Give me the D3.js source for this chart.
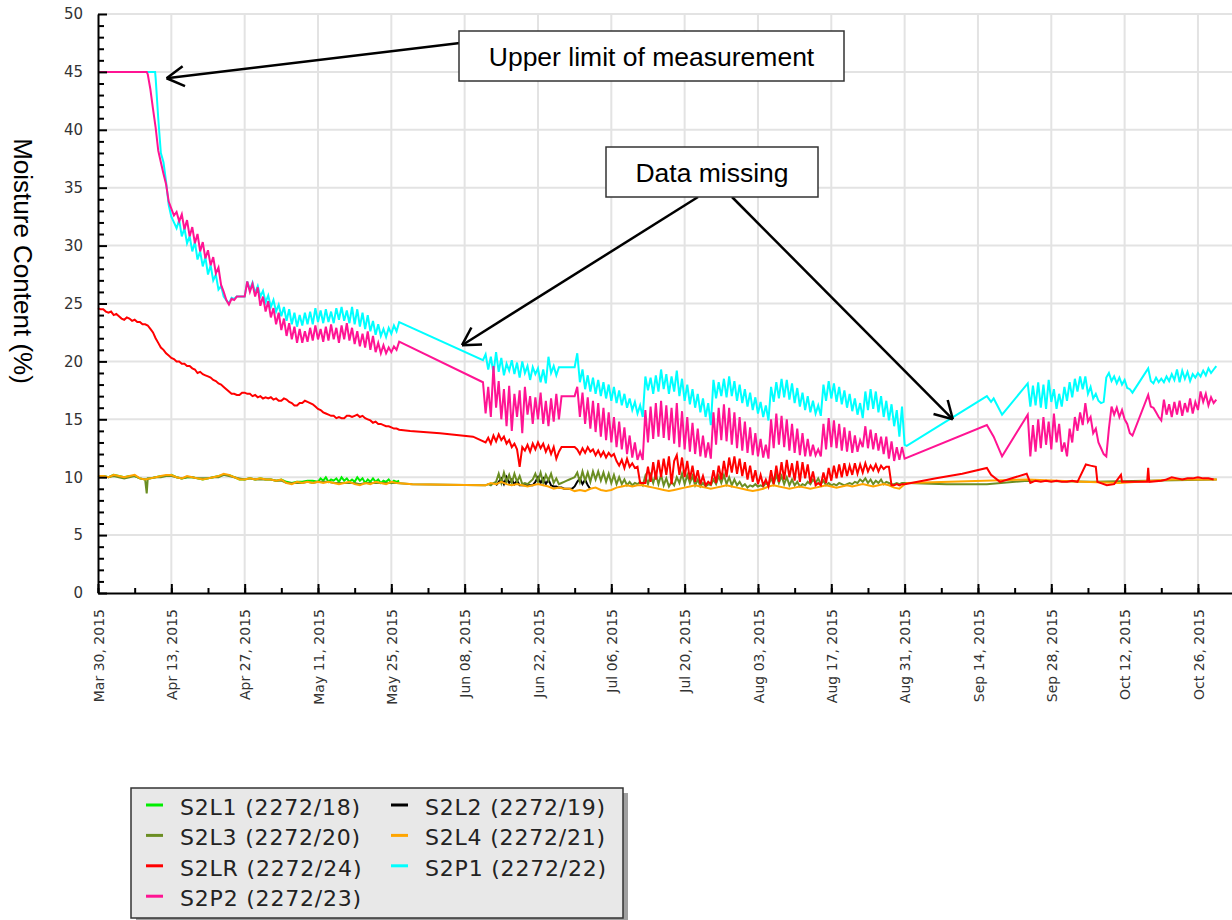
<!DOCTYPE html>
<meta charset="utf-8">
<style>
body { margin: 0; background: #fff; }
svg { display: block; background: #fff; }
.grid line { stroke: #e3e3e3; stroke-width: 2px; }
.series { fill: none; stroke-width: 2px; }
.axis path, .axis line { stroke: #000; stroke-width: 2px; }
.axis text { font-family: "DejaVu Sans", Verdana, sans-serif; fill: #333; }
.note rect { fill: #fff; stroke: #333; stroke-width: 1.5px; }
.note text { font-family: "Liberation Sans", Arial, sans-serif; font-size: 26.5px; fill: #000; }
.arrow line { stroke: #000; stroke-width: 2.5px; }
.legend text { font-family: "DejaVu Sans", Verdana, sans-serif; font-size: 22px; letter-spacing: 0.8px; fill: #222; }
</style>
<svg width="1232" height="920"></svg>
<script src="https://cdn.jsdelivr.net/npm/d3@7/dist/d3.min.js"></script>
<script>
// each series is a list of runs: [start day (from Mar 30 2015), step in days, values]
var s2l1 = [
  [0, 1, [10.1,10.1,10.0,10.2,10.1,10.0,10.1,10.1,9.9,9.8, 9.9,10.0,10.1,10.1,10.2,10.0,9.9,10.0,10.0,9.9,
          9.8,9.9,10.0,10.1,10.2,10.2,10.0,9.8,9.8,9.9, 9.8,9.9,9.8,9.8,9.7,9.8,9.6,9.5,9.6,9.6, 9.7,9.7]],
  [42, 0.5, [9.6,9.9,9.7,10.0,9.6,9.8,9.7,9.9,9.6,10.0, 9.7,9.9,9.6,9.8,9.6,10.0,9.7,9.9,9.5,9.8,
             9.6,9.9,9.6,9.8,9.5,9.7,9.6,9.8,9.5,9.7, 9.6,9.7]]
];
var s2l2 = [
  [76, 0.5, [9.3,9.6,9.9,9.4,10.0,9.5,9.8,9.4,9.7,9.3, 9.3,9.3,9.3,9.3,9.3,9.6,10.0,9.5,9.9,9.4,
             9.8,9.3,9.2,9.2,9.1,9.1,9.0,9.0,9.0,9.0, 9.2,9.6,9.9,9.4,9.8,9.3,9.0]]
];
var s2l3 = [
  [0, 1, [10.0,10.1,10.0,10.1,10.0,9.9,10.0,10.1,9.9,9.8]],
  [9.3, 0, [8.6]], [9.5, 0, [9.9]],
  [10, 1, [9.9,10.0,10.0,10.1,10.1,10.0,9.9,10.0,10.0,9.9, 9.9,9.9,10.0,10.0,10.2,10.1,10.0,9.9,9.8,9.9,
           9.8,9.8,9.8,9.8,9.7,9.7,9.5,9.5,9.5,9.5, 9.6,9.5,9.6,9.6,9.6,9.5,9.5,9.5,9.5,9.5,
           9.4,9.5,9.5,9.5,9.5,9.5,9.5,9.5]],
  [60, 0, [9.4]], [73.5, 0, [9.3]],
  [74, 0.5, [9.3,9.4,9.3,9.5,9.6,10.3,9.5,10.4,9.6,10.2, 9.5,10.3,9.6,10.1,9.4,9.5,9.4,9.6,9.8,10.3,
             9.6,10.4,9.5,10.2,9.7,10.3,9.5,9.9,9.4,9.5, 9.6,9.7,9.8,9.9,10.0,10.4,9.6,10.5,9.7,10.4,
             9.6,10.5,9.8,10.5,9.7,10.4,9.6,10.3,9.5,10.2, 9.4,10.0,9.4,9.8,9.3,9.6,9.3,9.5,9.4,9.6,
             9.3,10.1,9.4,10.2,9.5,10.3,9.4,10.2,9.3,9.9, 9.2,9.6,9.3,10.0,9.5,10.3,9.4,10.2,9.5,10.1,
             9.3,9.8,9.2,9.5,9.2,9.4,9.3,9.8,9.4,10.1, 9.5,10.2,9.4,10.0,9.3,9.8,9.3,9.6,9.2,9.4,
             9.1,9.3,9.2,9.4,9.2,9.3,9.2,9.5,9.3,9.9, 9.4,10.2,9.5,10.1,9.4,10.0,9.3,9.8,9.3,9.6,
             9.2,9.4,9.3,9.6,9.4,9.8,9.5,9.9,9.4,9.7, 9.3,9.5,9.3,9.4,9.3,9.5,9.4,9.3,9.4,9.5,
             9.4,9.6,9.5,9.8,9.6,9.9,9.5,9.8,9.4,9.7, 9.5,9.8,9.4,9.6,9.5,9.4,9.4,9.5,9.4,9.5, 9.5]],
  [154.5, 0, [9.5]], [162, 0, [9.4]], [169.7, 0, [9.4]], [177.5, 0, [9.7]],
  [190, 0, [9.6]], [200, 0, [9.7]], [213.6, 0, [9.8]]
];
var s2l4 = [
  [0, 1, [10.1,10.1,10.0,10.2,10.1,10.0,10.1,10.2,9.9,9.8, 9.9,10.0,10.1,10.2,10.2,10.0,9.9,10.1,10.0,9.9,
          9.8,9.9,10.0,10.1,10.3,10.2,10.0,9.8,9.8,9.9, 9.8,9.9,9.8,9.8,9.7,9.8,9.5,9.4,9.6,9.5,
          9.6,9.5,9.6,9.5,9.6,9.5,9.4,9.5,9.6,9.4, 9.3,9.5,9.4,9.6,9.5,9.4,9.6,9.5]],
  [60, 0, [9.4]], [73.5, 0, [9.3]],
  [74, 1, [9.3,9.5,9.4,9.6,9.4,9.3,9.4,9.3,9.2,9.3, 9.4,9.3,9.2,9.0,9.1,9.0,9.0,8.8,8.9,8.8,
           9.0,9.1,8.9,8.8,8.9,9.1,9.2,9.3,9.2,9.3, 9.3,9.2,9.1,9.0,8.9,8.8,8.9,9.0,9.1,9.2,
           9.3,9.2,9.1,9.0,9.1,9.2,9.3,9.2,9.1,9.0, 8.9,8.8,8.9,9.0,9.2,9.3,9.2,9.1,9.0,9.1,
           9.2,9.1,9.0,9.1,9.2,9.3,9.2,9.1,9.2,9.3, 9.2,9.3,9.4,9.3,9.2,9.3,9.4,9.3,9.1,9.0, 9.4]],
  [154.5, 0, [9.5]], [177.5, 0, [9.8]], [188, 0, [9.6]], [195, 0, [9.5]],
  [205, 0, [9.8]], [213.6, 0, [9.8]]
];
var s2lr = [
  [0, 0.5, [24.6,24.5,24.5,24.3,24.2,24.3,24.0,24.1,23.9,23.7, 23.6,23.8,23.7,23.5,23.6,23.4,23.4,23.2,23.2,23.1,
            22.8,22.5,22.0,21.6,21.2,21.0,20.7,20.5,20.3,20.2, 20.0,20.0,19.8,19.8,19.6,19.6,19.4,19.3,19.0,19.1,
            18.9,18.8,18.7,18.6,18.4,18.3,18.1,18.0,17.8,17.6, 17.4,17.2,17.2,17.1,17.1,17.3,17.3,17.2,17.2,17.0,
            17.1,16.9,17.0,16.8,16.9,16.8,16.9,16.7,16.8,16.6, 16.6,16.8,16.7,16.5,16.4,16.2,16.2,16.4,16.4,16.6,
            16.5,16.4,16.3,16.1,15.9,15.8,15.6,15.5,15.4,15.3, 15.3,15.1,15.2,15.1,15.1,15.3,15.3,15.2,15.3,15.4,
            15.2,15.3,15.1,15.0,14.9,14.7,14.8,14.6,14.6,14.5, 14.4,14.4,14.3,14.2,14.2,14.1]],
  [59.6, 0, [14.0]], [65.3, 0, [13.8]], [71.6, 0, [13.5]],
  [74, 0.5, [13.0,13.4,12.9,13.6,13.1,13.7,13.2,13.5,12.9,13.2, 12.6,12.9,12.4,10.9,12.6,12.3,12.8,12.2,12.9,12.4,
             13.0,12.5,12.9,12.2,12.7,12.0,12.6,11.6,12.2,12.6, 12.6,12.6,12.6,12.6,12.6]],
  [91.5, 0.5, [12.4,12.0,12.5,12.1,12.6,12.2,12.4,11.9,12.3,11.8, 12.2,11.7,12.1,11.8,12.0,11.4,11.0,11.5,10.8,11.6,
               10.9,11.2,10.8,10.9,9.5,9.5,9.5,10.9,9.6,11.3, 9.8,11.5,10.0,11.6,10.2,11.8,9.4,11.4,11.9,10.2,
               11.7,10.0,11.4,9.8,11.0,9.6,10.6,9.4,10.1,9.3, 9.6,9.4,10.6,9.5,11.0,9.8,11.4,10.0,11.7,10.4,
               11.8,10.3,11.6,10.1,11.3,9.8,11.0,9.6,10.6,9.4, 10.2,9.3,9.8,9.2,10.6,9.4,11.0,9.6,11.3,9.8,
               11.5,10.0,11.2,9.7,11.4,9.6,11.3,9.9,11.1,9.5, 10.5,9.3,9.5,9.3,10.4,9.5,10.8,9.7,11.0,9.9,
               11.1,10.0,11.2,10.1,11.0,10.2,11.2,10.3,11.1,10.4, 11.2,10.5,11.0,10.6,11.1,10.5,11.0,10.7,10.9,10.9,
               9.3,9.3,9.4,9.3,9.4,9.4]],
  [160, 0, [9.9]], [165, 0, [10.3]], [169.7, 0, [10.8]], [170.5, 0, [10.2]], [172.2, 0, [9.6]],
  [177.3, 0, [10.3]], [178, 0, [9.5]],
  [179, 1, [9.7,9.6,9.7,9.6,9.7,9.6,9.6,9.7,9.6]],
  [188.6, 0, [11.1]], [189.5, 0, [11.0]], [190.5, 0, [10.9]], [190.8, 0, [9.6]], [192.6, 0, [9.3]],
  [194, 0, [9.4]], [195.3, 0, [10.2]], [195.5, 0, [9.6]], [198, 0, [9.6]], [200.3, 0, [9.6]],
  [200.5, 0, [10.8]], [200.7, 0, [9.6]],
  [203, 1, [9.7,9.8,10.0,9.9,9.8,9.9,9.9,10.0,9.9,9.9,9.8]]
];
var s2p1 = [
  [0, 10.9, [45, 45]],
  [11, 0.5, [44.5,41,38,37.2,35.5,33.5,32.5,32,31.5,32.2, 30.8,31.5,30.2,30.8,29.5,30.3,28.8,29.5,28.2,29,
             27.5,28.3,27,27.5,26.2,26.5,25.6,25.3,25.0,25.5, 25.4,25.6,25.6,25.6,25.6,26.9,26.2,26.8,25.9,26.5,
             25.6,26.1,25.1,25.7,24.7,25.3,24.3,24.9,23.9,24.7, 23.5,24.5,23.2,24.2,23,24,23.1,24.2,23.2,24.3,
             23.2,24.6,23.4,24.4,23.3,24.5,23.4,24.3,23.3,24.6, 23.6,24.7,23.5,24.4,23.3,24.7,23.2,24.5,23.0,24.2,
             22.8,24,22.6,23.5,22.3,23.2,22.2,22.8,22.1,22.9, 22.4,23.1,22.6,23.4]],
  [73.5, 0.5, [20.1,20.6,19.3,20.4,19.0,20.8,19.1,20.3,18.8,19.8, 19.2,20.1,18.9,19.9,18.6,20.0,19.0,19.6,18.4,19.5,
               18.9,19.4,18.2,19.3,18.1,20.4,19.0,19.6,18.8,19.5, 19.5,19.5,19.5,19.5,19.5,19.5]],
  [91.5, 0.5, [20.7,18.2,19.3,17.6,18.8,17.4,18.6,17.2,18.4,17.0, 18.2,16.8,18.0,16.6,17.8,16.4,17.5,16.2,17.2,16.0,
               16.8,15.8,16.5,15.5,16.2,15.2,18.7,17.5,18.6,17.2, 18.8,17.4,19.3,17.6,18.9,17.2,18.7,17.4,19.2,17.0,
               18.5,16.6,18.0,16.3,17.6,16.0,17.2,15.6,16.8,15.2, 16.4,14.5,18.4,16.8,18.2,17.0,18.5,16.9,18.7,17.0,
               18.3,16.6,18.0,16.4,17.6,16.1,17.3,15.8,16.9,15.5, 16.5,15.2,16.2,14.9,17.8,16.5,18.2,16.8,18.5,16.9,
               18.4,16.7,18.1,16.4,17.7,16.1,17.3,15.8,17.0,15.6, 16.6,15.5,16.2,15.3,18.0,16.6,18.3,16.8,18.1,16.5,
               17.8,16.3,17.5,16.0,17.2,15.7,16.8,15.4,16.4,15.1, 17.4,15.8,17.6,15.9,17.4,15.6,17.0,15.2,16.6,14.9,
               16.3,14.4,15.8,13.5,16.1,12.8]],
  [154.4, 0, [12.7]], [169.7, 0, [17.0]], [170.5, 0, [16.5]], [171, 0, [16.8]], [172.6, 0, [15.4]],
  [177.5, 0, [18.1]],
  [178, 0.5, [16.1,17.9,16.2,18.2,16.0,18.0,15.9,18.4,16.5,17.6, 15.9,17.2,16.1,17.8,16.6,18.2,16.9,18.5,17.4,18.7,
              17.6,18.7,17.2,17.8,16.8,17.2,16.6,16.4,16.5,18.6, 19.0,18.3,18.7,18.1,18.6,18.0,18.4,17.7,17.6,17.3]],
  [200.5, 0, [19.4]],
  [201, 0.5, [18.3,18.1,18.6,18.2,18.5,18.2,18.7,18.3,18.9,18.4, 19.3,18.2,19.2,18.5,19.1,18.3,18.9,18.6,19.0,18.7,
              19.2,18.8,19.4,19.0,19.3,19.6]]
];
var s2p2 = [
  [0, 9.3, [45, 45]],
  [9.5, 0.5, [44.8,43.5,41.8,40.2,38.2,37.2,36.2,35.3,33.8,33.2, 32.6,32.9,32.1,32.7,31.4,32.2,30.8,31.6,30.2,31.0,
              29.5,30.3,28.9,29.6,28.3,29.0,27.6,28.1,26.6,26.0, 25.3,24.9,25.4,25.3,25.6,25.6,25.6,25.6,26.9,26.0,
              26.7,25.6,26.4,24.8,25.6,24.3,25.2,23.8,24.6,23.2, 24.2,22.7,23.7,22.2,23.3,21.9,23.0,21.6,22.8,21.6,
              22.6,21.7,22.9,21.8,23.1,21.9,22.8,21.7,23.0,21.8, 23.2,21.9,22.9,21.6,23.1,21.9,23.3,21.8,22.9,21.5,
              22.6,21.3,22.4,21.2,22.6,21.0,22.2,20.8,21.6,20.7, 21.4,20.7,21.2,20.8,21.3,21.0,21.7]],
  [73.5, 0.5, [18.2,15.5,17.8,15.2,19.6,16.0,18.3,15.0,17.6,14.4, 17.9,14.0,17.2,15.2,17.5,13.8,17.8,15.4,17.0,14.6,
               16.9,15.0,17.3,14.6,16.6,14.4,16.8,14.8,17.2,15.0, 17.0,17.0,17.0,17.0,17.0,17.0]],
  [91.5, 0.5, [17.8,15.2,17.3,14.6,16.9,14.2,16.6,13.9,16.4,13.5, 16.0,13.2,15.6,13.0,15.2,12.6,14.8,12.4,14.3,12.0,
               13.6,11.7,13.0,11.5,12.2,11.5,15.8,13.0,16.1,13.3, 16.4,13.5,16.6,13.4,16.2,13.2,16.0,12.9,16.4,12.6,
               15.7,12.4,15.2,12.2,14.7,12.0,14.2,11.8,13.6,11.7, 13.0,11.6,15.6,12.8,16.0,13.2,16.3,13.1,16.0,12.8,
               15.6,12.5,15.2,12.3,14.8,12.1,14.3,11.9,13.8,11.8, 13.3,11.7,12.8,11.6,15.0,12.5,15.5,12.8,15.3,12.6,
               15.0,12.3,14.6,12.1,14.2,11.9,13.8,11.8,13.3,11.8, 12.8,11.9,12.4,11.8,14.6,12.4,15.1,12.6,14.9,12.5,
               14.6,12.3,14.3,12.2,14.0,12.1,13.6,12.2,13.2,12.6, 14.4,12.5,14.1,12.4,13.8,12.3,13.5,12.0,13.5,11.6,
               13.1,11.4,12.6,11.5,12.6,11.6]],
  [169.7, 0, [14.5]], [171, 0, [13.5]], [172.6, 0, [11.8]], [177.5, 0, [15.4]],
  [178, 0.5, [11.8,14.5,12.2,15.0,12.5,15.2,12.8,14.8,12.4,15.5, 13.0,14.6,12.2,13.0,11.8,14.2,13.0,15.2,14.0,15.6,
              14.5,16.4,14.8,15.2,13.8,14.2,13.0,12.5,12.0,11.8, 14.2,16.1,15.4,16.0,15.2,15.8,15.0,14.6,13.8,13.6]],
  [200.5, 0, [17.1]],
  [201, 0.5, [16.1,16.0,15.6,15.2,14.9,16.7,15.4,16.3,15.2,16.5, 15.4,16.6,15.3,16.4,15.6,16.8,15.5,16.5,15.8,17.4,
              16.5,17.2,16.2,16.9,16.4,16.7]]
];

var seriesNames = ["S2L1 (2272/18)", "S2L2 (2272/19)", "S2L3 (2272/20)", "S2L4 (2272/21)",
                   "S2LR (2272/24)", "S2P1 (2272/22)", "S2P2 (2272/23)"];
var seriesData = [s2l1, s2l2, s2l3, s2l4, s2lr, s2p1, s2p2];
var seriesColors = ["#00ee00", "#000000", "#6b8e23", "#ffa500", "#ff0000", "#00ffff", "#ff1493"];

var xTickLabels = ["Mar 30, 2015", "Apr 13, 2015", "Apr 27, 2015", "May 11, 2015", "May 25, 2015",
  "Jun 08, 2015", "Jun 22, 2015", "Jul 06, 2015", "Jul 20, 2015", "Aug 03, 2015", "Aug 17, 2015",
  "Aug 31, 2015", "Sep 14, 2015", "Sep 28, 2015", "Oct 12, 2015", "Oct 26, 2015"];
var yTicks = [0, 5, 10, 15, 20, 25, 30, 35, 40, 45, 50];

var notes = [
  {text: "Upper limit of measurement", tips: [[13.1, 44.45]]},
  {text: "Data missing", tips: [[69.5, 21.4], [163.2, 15.0]]}
];

var svg = d3.select("svg");
var plot = {left: 98, right: 1232, top: 14, bottom: 593};
var parse = d3.timeParse("%b %d, %Y");
var start = parse(xTickLabels[0]);
function dayToDate(d) { return new Date(start.getTime() + d * 864e5); }

var x = d3.scaleTime().domain([start, dayToDate(216.5)]).range([plot.left, plot.right]),
    y = d3.scaleLinear().domain([0, 50]).range([plot.bottom, plot.top]);

var tickDates = xTickLabels.map(parse);

// grid
var grid = svg.append("g").attr("class", "grid");
grid.selectAll(".h").data(yTicks.slice(1)).join("line").attr("class", "h")
  .attr("x1", plot.left).attr("x2", plot.right)
  .attr("y1", function(d) { return y(d); }).attr("y2", function(d) { return y(d); });
grid.selectAll(".v").data(tickDates.slice(1)).join("line").attr("class", "v")
  .attr("x1", function(d) { return x(d); }).attr("x2", function(d) { return x(d); })
  .attr("y1", y(50)).attr("y2", y(0));

// series
function expand(runs) {
  var pts = [];
  runs.forEach(function(r) {
    r[2].forEach(function(v, i) { pts.push({date: dayToDate(r[0] + i * r[1]), value: v}); });
  });
  return pts;
}
var line = d3.line().x(function(d) { return x(d.date); }).y(function(d) { return y(d.value); });
svg.append("g").selectAll("path").data(seriesData).join("path")
  .attr("class", "series")
  .attr("stroke", function(d, i) { return seriesColors[i]; })
  .attr("d", function(d) { return line(expand(d)); });

// axes
var mondays = d3.timeMonday.range(start, dayToDate(216.5));
svg.append("g").attr("class", "axis").attr("transform", "translate(0," + plot.bottom + ")")
  .call(d3.axisBottom(x).tickValues(mondays).tickSize(-5).tickSizeOuter(0).tickFormat(""))
  .select(".domain").remove();
var xa = svg.append("g").attr("class", "axis").attr("transform", "translate(0," + plot.bottom + ")")
  .call(d3.axisBottom(x).tickValues(tickDates).tickSize(-9).tickSizeOuter(0)
    .tickFormat(function(d, i) { return xTickLabels[i]; }));
xa.selectAll("text")
  .attr("transform", "rotate(-90)")
  .attr("x", -16).attr("y", 0).attr("dy", "0.36em")
  .attr("text-anchor", "end")
  .style("font-size", "14px");

svg.append("g").attr("class", "axis").attr("transform", "translate(" + plot.left + ",0)")
  .call(d3.axisLeft(y).tickValues(d3.range(0, 51).filter(function(v) { return v % 5; }))
    .tickSize(-6).tickSizeOuter(0).tickFormat(""))
  .select(".domain").remove();
svg.append("g").attr("class", "axis").attr("transform", "translate(" + plot.left + ",0)")
  .call(d3.axisLeft(y).tickValues(yTicks).tickSize(-9).tickSizeOuter(0).tickPadding(15))
  .selectAll("text").style("font-size", "15px");

svg.append("text")
  .attr("transform", "translate(14,261) rotate(90)")
  .attr("text-anchor", "middle")
  .style("font-family", "'Liberation Sans', Arial, sans-serif")
  .style("font-size", "26px")
  .text("Moisture Content (%)");

// annotations
var boxes = [[459, 31, 385, 50], [606, 147, 212, 50]];
var starts = [[[460, 43]], [[698, 197], [732, 197]]];
var ann = svg.append("g");
notes.forEach(function(n, k) {
  var b = boxes[k];
  var g = ann.append("g").attr("class", "arrow");
  n.tips.forEach(function(t, j) {
    var fx = starts[k][j][0], fy = starts[k][j][1];
    var tx = x(dayToDate(t[0])), ty = y(t[1]);
    var a = Math.atan2(fy - ty, fx - tx);
    g.append("line").attr("x1", fx).attr("y1", fy).attr("x2", tx).attr("y2", ty);
    [-Math.PI / 6, Math.PI / 6].forEach(function(da) {
      g.append("line").attr("x1", tx).attr("y1", ty)
        .attr("x2", tx + 20 * Math.cos(a + da)).attr("y2", ty + 20 * Math.sin(a + da));
    });
  });
  var ng = ann.append("g").attr("class", "note");
  ng.append("rect").attr("x", b[0]).attr("y", b[1]).attr("width", b[2]).attr("height", b[3]);
  ng.append("text").attr("x", b[0] + b[2] / 2).attr("y", b[1] + 35)
    .attr("text-anchor", "middle").text(n.text);
});

// legend
var lg = svg.append("g").attr("class", "legend");
lg.append("rect").attr("x", 136).attr("y", 793).attr("width", 492).attr("height", 130).attr("fill", "#a0a0a0");
lg.append("rect").attr("x", 131).attr("y", 788).attr("width", 492).attr("height", 130)
  .attr("fill", "#e8e8e8").attr("stroke", "#333").attr("stroke-width", 1.5);
seriesNames.forEach(function(name, i) {
  var col = i % 2, row = Math.floor(i / 2);
  lg.append("line")
    .attr("x1", 146 + col * 245).attr("x2", 163 + col * 245)
    .attr("y1", 805 + row * 30.4).attr("y2", 805 + row * 30.4)
    .attr("stroke", seriesColors[i]).attr("stroke-width", 3);
  lg.append("text").attr("x", 180 + col * 245).attr("y", 815 + row * 30.4).text(name);
});
</script>
